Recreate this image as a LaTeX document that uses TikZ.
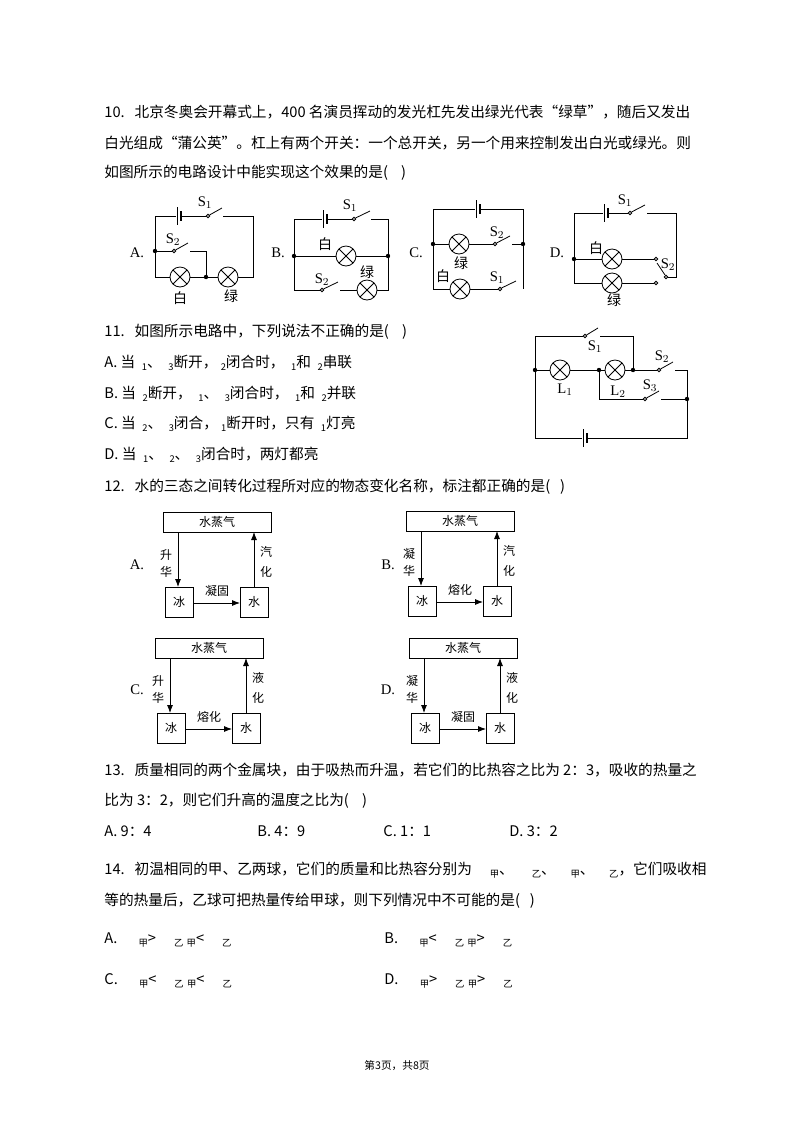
\documentclass[tikz,border=0pt]{standalone}
\usepackage{fontspec}
\setmainfont{Liberation Serif}
\newfontfamily\cjk{Noto Sans CJK SC}
\usetikzlibrary{arrows.meta}
\newcommand{\lamp}[2]{\draw[fill=white] (#1,#2) circle (10);\draw ($(#1,#2)+(-7,-7)$)--($(#1,#2)+(7,7)$) ($(#1,#2)+(-7,7)$)--($(#1,#2)+(7,-7)$);}
\newcommand{\sw}[3]{\draw[fill=white] (#1,#2) circle (1.8);\draw ($(#1,#2)+(1.5,-1)$)--(#3,#2-8);}
\newcommand{\batt}[2]{\fill[white] (#1-1,#2-9) rectangle (#1+5,#2+9);\draw (#1,#2-9)--(#1,#2+9);\draw[line width=1.2pt] (#1+4,#2-5)--(#1+4,#2+5);}
\newcommand{\dotat}[2]{\fill (#1,#2) circle (2.2);}
\newcommand{\sub}[1]{\raisebox{-0.4ex}{\scriptsize\itshape #1}}
\newcommand{\phase}[7]{%
\begin{scope}[shift={(#1,#2)}]
\draw (0,0) rectangle (108,20); \node[font=\cjk\small] at (54,10) {水蒸气};
\draw (2,75) rectangle (30,105); \node[font=\cjk\small] at (16,90) {冰};
\draw (77,75) rectangle (105,105); \node[font=\cjk\small] at (91,90) {水};
\draw[-{Latex[length=6pt]}] (15,20)--(15,75);
\draw[-{Latex[length=6pt]}] (91,75)--(91,20);
\draw[-{Latex[length=6pt]}] (30,91)--(77,91);
\node[font=\cjk\small] at (3,43) {#3}; \node[font=\cjk\small] at (3,60) {#4};
\node[font=\cjk\small] at (103,40) {#6}; \node[font=\cjk\small] at (103,60) {#7};
\node[font=\cjk\small] at (54,79) {#5};
\end{scope}}
\usetikzlibrary{calc}
\begin{document}
\begin{tikzpicture}[x=0.75pt,y=-0.75pt,line width=0.6pt,
 txt/.style={anchor=west,font=\cjk\fontsize{11}{13}\selectfont,inner sep=0},
 lab/.style={font=\fontsize{11}{13}\selectfont,inner sep=0},
 clab/.style={font=\cjk\fontsize{10.5}{12}\selectfont,inner sep=0}]
\useasboundingbox (0,0) rectangle (794,1122);
% Q10
\node[txt] at (104,112) {10.\ \ \ 北京冬奥会开幕式上，400 名演员挥动的发光杠先发出绿光代表“绿草”，随后又发出};
\node[txt] at (104,143) {白光组成“蒲公英”。杠上有两个开关：一个总开关，另一个用来控制发出白光或绿光。则};
\node[txt] at (104,173) {如图所示的电路设计中能实现这个效果的是(\ \ \ \ )};
% circuit A
\draw (155,216)--(253,216)--(253,277)--(155,277)--(155,216);
\fill[white] (206,210) rectangle (223,220);
\draw (206,216)--(208,216); \sw{208}{216}{222}
\batt{177}{216}
\draw (155,251)--(172,251); \sw{174}{251}{188}
\draw (190,251)--(206,251)--(206,277);
\lamp{180}{277}\lamp{228}{277}
\dotat{155}{251}\dotat{206}{277}
\node[lab] at (205,203) {S$_1$}; \node[lab] at (173,240) {S$_2$};
\node[clab] at (180,298) {白}; \node[clab] at (231,296) {绿};
\node[lab] at (137,253) {A.};
% circuit B
\draw (294,219)--(388,219)--(388,290)--(294,290)--cycle;
\fill[white] (356,213) rectangle (371,223); \sw{354}{219}{370}
\batt{323}{219}
\draw (294,256)--(388,256);
\fill[white] (324,284) rectangle (340,294); \sw{322}{290}{338}
\lamp{346}{256}\lamp{367}{290}
\dotat{294}{256}\dotat{388}{256}
\node[lab] at (350,206) {S$_1$}; \node[lab] at (322,280) {S$_2$};
\node[clab] at (325,244) {白}; \node[clab] at (367,272) {绿};
\node[lab] at (278,253) {B.};
% circuit C
\draw (433,209)--(523,209)--(523,289); \draw (433,209)--(433,289)--(498,289);
\batt{476}{209}
\draw (433,244)--(493,244); \sw{495}{244}{510}
\draw (512,244)--(523,244);
\sw{500}{289}{516}
\lamp{459}{244}\lamp{460}{289}
\dotat{433}{244}\dotat{523}{244}
\node[lab] at (497,233) {S$_2$}; \node[lab] at (497,278) {S$_1$};
\node[clab] at (461,263) {绿}; \node[clab] at (443,276) {白};
\node[lab] at (416,253) {C.};
% circuit D
\draw (574,283)--(574,213)--(628,213); \sw{630}{213}{645}
\draw (647,213)--(676,213)--(676,277)--(668,277);
\batt{604}{213}
\draw (574,259)--(654,259); \draw (574,283)--(654,283);
\draw[fill=white] (656,259) circle (1.8); \draw[fill=white] (656,283) circle (1.8);
\draw[fill=white] (666,277) circle (1.8); \draw (665,275)--(657,263);
\lamp{612}{259}\lamp{612}{283}
\dotat{574}{259}
\node[lab] at (625,201) {S$_1$}; \node[lab] at (668,265) {S$_2$};
\node[clab] at (596,248) {白}; \node[clab] at (614,300) {绿};
\node[lab] at (557,253) {D.};
% Q11
\node[txt] at (104,332) {11.\ \ \ 如图所示电路中，下列说法不正确的是(\ \ \ \ )};
\node[txt] at (104,363) {A. 当 \ \sub{1}、\ \ \sub{3}断开，\ \sub{2}闭合时，\ \ \sub{1}和 \ \sub{2}串联};
\node[txt] at (104,394) {B. 当 \ \sub{2}断开，\ \ \sub{1}、\ \ \sub{3}闭合时，\ \ \sub{1}和 \ \sub{2}并联};
\node[txt] at (104,424) {C. 当 \ \sub{2}、\ \ \sub{3}闭合，\ \sub{1}断开时，只有 \ \sub{1}灯亮};
\node[txt] at (104,455) {D. 当 \ \sub{1}、\ \ \sub{2}、\ \ \sub{3}闭合时，两灯都亮};
\draw (535,438)--(535,336)--(583,336); \sw{585}{336}{598}
\draw (600,336)--(633,336)--(633,370);
\draw (535,370)--(657,370); \sw{659}{370}{673}
\draw (675,370)--(687,370)--(687,438)--(535,438);
\draw (599,370)--(599,399)--(643,399); \sw{645}{399}{659}
\draw (661,399)--(687,399);
\batt{583}{438}
\lamp{560}{370}\lamp{615}{370}
\dotat{535}{370}\dotat{599}{370}\dotat{633}{370}\dotat{687}{399}
\node[lab] at (595,347) {S$_1$}; \node[lab] at (662,357) {S$_2$};
\node[lab] at (650,386) {S$_3$};
\node[lab] at (565,390) {L$_1$}; \node[lab] at (618,392) {L$_2$};
% Q12
\node[txt] at (104,487) {12.\ \ \ 水的三态之间转化过程所对应的物态变化名称，标注都正确的是(\ \ \ )};
\phase{163}{512}{升}{华}{凝固}{汽}{化}
\phase{406}{511}{凝}{华}{熔化}{汽}{化}
\phase{155}{638}{升}{华}{熔化}{液}{化}
\phase{409}{638}{凝}{华}{凝固}{液}{化}
\node[lab] at (137,565) {A.}; \node[lab] at (388,565) {B.};
\node[lab] at (137,690) {C.}; \node[lab] at (388,690) {D.};
% Q13
\node[txt] at (104,770) {13.\ \ \ 质量相同的两个金属块，由于吸热而升温，若它们的比热容之比为 2：3，吸收的热量之};
\node[txt] at (104,801) {比为 3：2，则它们升高的温度之比为(\ \ \ \ )};
\node[txt] at (104,831) {A. 9：4}; \node[txt] at (257,831) {B. 4：9};
\node[txt] at (383,831) {C. 1：1}; \node[txt] at (509,831) {D. 3：2};
% Q14
\node[txt] at (104,870) {14.\ \ \ 初温相同的甲、乙两球，它们的质量和比热容分别为\quad\ \sub{甲}、\quad\ \sub{乙}、\quad\sub{甲}、\quad\sub{乙}，它们吸收相};
\node[txt] at (104,901) {等的热量后，乙球可把热量传给甲球，则下列情况中不可能的是(\ \ \ )};
\node[txt] at (104,940) {A.\quad\ \ \sub{甲}>\quad\ \sub{乙}\ \sub{甲}<\quad\ \sub{乙}};
\node[txt] at (384,940) {B.\quad\ \ \sub{甲}<\quad\ \sub{乙}\ \sub{甲}>\quad\ \sub{乙}};
\node[txt] at (104,981) {C.\quad\ \ \sub{甲}<\quad\ \sub{乙}\ \sub{甲}<\quad\ \sub{乙}};
\node[txt] at (384,981) {D.\quad\ \ \sub{甲}>\quad\ \sub{乙}\ \sub{甲}>\quad\ \sub{乙}};
\node[font=\cjk\fontsize{8}{9}\selectfont] at (397,1066) {第3页，共8页};
\end{tikzpicture}
\end{document}
